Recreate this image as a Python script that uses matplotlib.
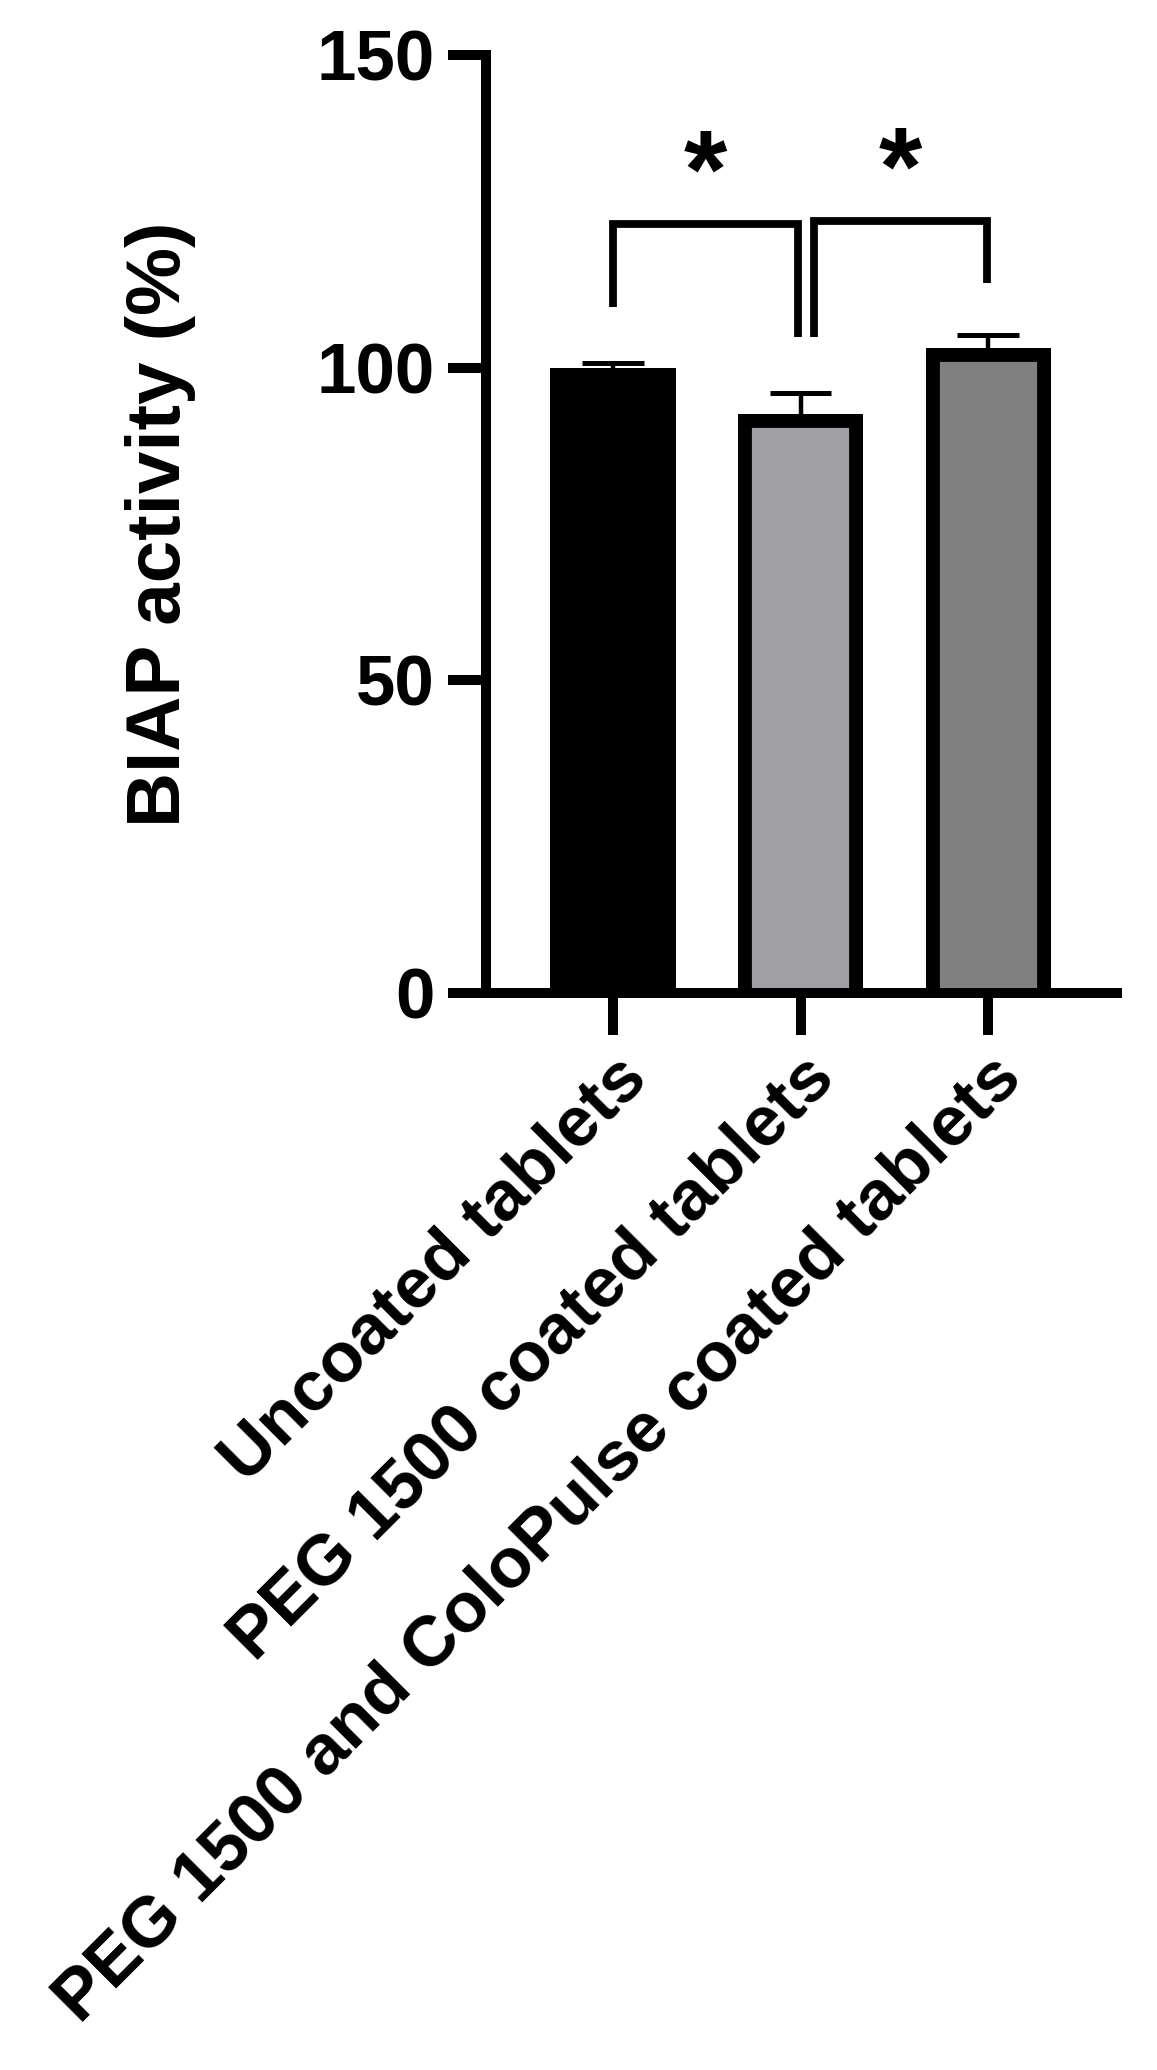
import matplotlib
matplotlib.use("Agg")
import matplotlib.pyplot as plt
import numpy as np
from matplotlib.transforms import TransformedPatchPath

# data
groups = ["Uncoated tablets", "PEG 1500 coated tablets", "PEG 1500 and ColoPulse coated tablets"]
activity = [100.0, 92.6, 103.1]
activity_sd = [0.8, 3.4, 2.1]
fills = ["#000000", "#a0a0a4", "#808080"]

# significance brackets: (x_left, x_right, top, left_leg_bottom, right_leg_bottom)
bracket_x = [(0.0, 0.987), (1.072, 1.995)]
bracket_top = [123.0, 123.5]
bracket_legs = [(109.7, 104.9), (104.9, 113.5)]
bracket_labels = ["*", "*"]

plt.rcParams["font.family"] = ["Liberation Sans", "DejaVu Sans"]
plt.rcParams["font.weight"] = "bold"

fig = plt.figure(figsize=(11.57, 20.70), dpi=100)
ax = fig.add_axes([0.4201, 0.5203, 0.5454, 0.4531])

x = np.arange(len(groups))
# bars start a little below zero so the bottom border is hidden under the axis
sink = 3.0
bars = ax.bar(x, np.array(activity) + sink, bottom=-sink, width=0.667, color=fills,
              edgecolor="black", linewidth=20, zorder=2)
# clip each bar to its own outline (border drawn inside), axes clip still applies
for b in bars:
    b.set_clip_path(TransformedPatchPath(b))

# upper error bars only
tops = np.array(activity) + np.array(activity_sd)
cap_half = 0.165
ax.vlines(x, activity, tops, color="black", linewidth=3.2, zorder=1)
ax.hlines(tops, x - cap_half, x + cap_half, color="black", linewidth=3.6, zorder=1)

for (xl, xr), top, (lb, rb), lab in zip(bracket_x, bracket_top, bracket_legs, bracket_labels):
    ax.plot([xl, xl, xr, xr], [lb, top, top, rb], color="black", linewidth=5.6,
            solid_joinstyle="miter", solid_capstyle="butt", clip_on=False, zorder=3)
    ax.text((xl + xr) / 2, top + 2.6, lab, ha="center", va="baseline",
            fontsize=80, fontweight="bold")

ax.set_xlim(-0.677, 2.688)
ax.set_ylim(0, 150)
ax.set_yticks([0, 50, 100, 150])
ax.set_xticks(x)
ax.set_xticklabels(groups, rotation=45, ha="right", va="top", rotation_mode="anchor",
                   fontsize=51, fontweight="bold")
ax.tick_params(axis="y", labelsize=51, width=7.2, length=27.4, pad=9.4)
ax.tick_params(axis="x", width=7.2, length=30, pad=7)
for lab in ax.get_yticklabels():
    lab.set_fontweight("bold")

for side in ["top", "right"]:
    ax.spines[side].set_visible(False)
for side in ["left", "bottom"]:
    ax.spines[side].set_linewidth(7.2)
    ax.spines[side].set_zorder(4)
ax.spines["left"].set_capstyle("projecting")

ax.set_ylabel("BIAP activity (%)", fontsize=55, fontweight="bold")
ax.yaxis.set_label_coords(-0.46, 0.5)

fig.savefig("out.png", dpi=100)
